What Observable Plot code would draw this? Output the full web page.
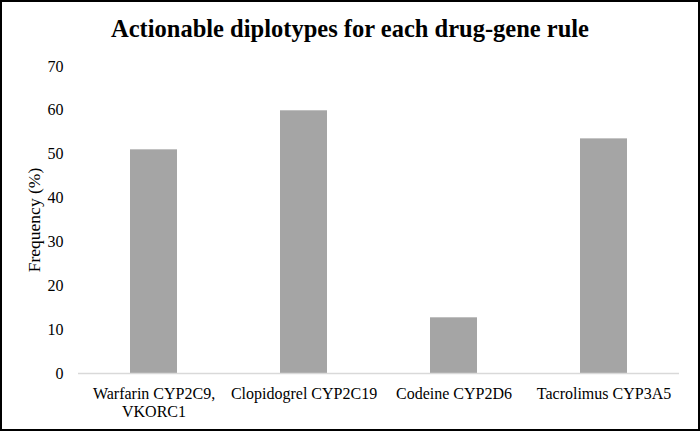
<!DOCTYPE html>
<html>
<head>
<meta charset="utf-8">
<script src="https://cdn.jsdelivr.net/npm/d3@7"></script>
<script src="https://cdn.jsdelivr.net/npm/@observablehq/plot@0.6"></script>
<style>
  html, body { margin: 0; padding: 0; background: #fff; }
  #wrap { position: relative; width: 700px; height: 431px; overflow: hidden; background: #fff; }
  #title { position: absolute; left: 0; top: 17px; width: 700px; text-align: center;
    font-family: "Liberation Serif", "Times New Roman", serif; font-weight: bold; font-size: 24.5px; line-height: 24px; color: #000; }
  #chart { position: absolute; left: 0; top: 0; }
  #frame { position: absolute; left: 0; top: 0; width: 700px; height: 431px; box-sizing: border-box;
    border: 2px solid #000; pointer-events: none; }
</style>
</head>
<body>
<div id="wrap">
  <div id="chart"></div>
  <div id="title">Actionable diplotypes for each drug-gene rule</div>
  <div id="frame"></div>
</div>
<script>
const categories = ["Warfarin CYP2C9,\nVKORC1", "Clopidogrel CYP2C19", "Codeine CYP2D6", "Tacrolimus CYP3A5"];
const frequency = [51.0, 59.9, 12.7, 53.5];
const yTicks = [0, 10, 20, 30, 40, 50, 60, 70];
const yLabel = "Frequency (%)";

const data = categories.map((c, i) => ({category: c, value: frequency[i]}));

const chart = Plot.plot({
  width: 700,
  height: 431,
  marginTop: 66,
  marginBottom: 58,
  marginLeft: 78,
  marginRight: 21,
  style: {fontFamily: "'Liberation Serif', 'Times New Roman', serif", fontSize: "16px", color: "#000", background: "transparent"},
  x: {domain: categories, paddingInner: 0.69, paddingOuter: 0.345, label: null},
  y: {domain: [0, 70], label: null},
  marks: [
    Plot.barY(data, {x: "category", y: "value", fill: "#a5a5a5"}),
    Plot.ruleY([0], {stroke: "#d9d9d9", strokeWidth: 1.5}),
    Plot.axisX({tickSize: 0, tickPadding: 13, lineHeight: 1.125, label: null, fill: "#000", fontSize: 16}),
    Plot.axisY({ticks: yTicks, tickSize: 0, tickPadding: 15, tickFormat: d => String(d),
      label: null, fill: "#000", fontSize: 16}),
    Plot.text([yLabel], {frameAnchor: "left", textAnchor: "middle", dx: -44, rotate: -90, fontSize: 17.5, fill: "#000"})
  ]
});
document.getElementById("chart").appendChild(chart);
</script>
</body>
</html>
